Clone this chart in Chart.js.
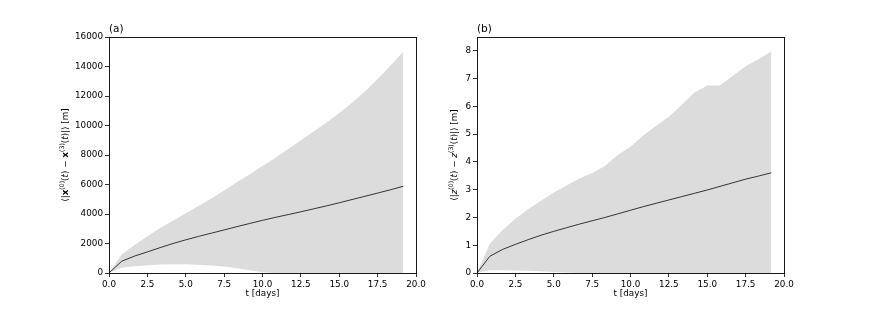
<!DOCTYPE html>
<html>
<head>
<meta charset="utf-8">
<script src="https://cdn.jsdelivr.net/npm/chart.js@4.4.1/dist/chart.umd.min.js"></script>
<style>
  html, body { margin: 0; padding: 0; background: #fff; }
  #wrap { position: relative; width: 872px; height: 312px; }
  .panel { position: absolute; top: 0; width: 436px; height: 312px; }
</style>
</head>
<body>
<div id="wrap">
  <div class="panel" style="left:0"><canvas id="chartA"></canvas></div>
  <div class="panel" style="left:436px"><canvas id="chartB"></canvas></div>
</div>
<script>
// time axis, 20 h output steps
const days = [0, 0.83, 1.67, 2.5, 3.33, 4.17, 5, 5.83, 6.67, 7.5, 8.33, 9.17,
  10, 10.83, 11.67, 12.5, 13.33, 14.17, 15, 15.83, 16.67, 17.5, 18.33, 19.17];

// (a) horizontal separation [m]
const sepMean  = [0, 800, 1150, 1430, 1720, 2000, 2250, 2480, 2700, 2920, 3140, 3360,
  3570, 3770, 3960, 4150, 4350, 4550, 4760, 4980, 5200, 5420, 5640, 5880];
const sepUpper = [0, 1250, 1900, 2500, 3050, 3550, 4050, 4550, 5050, 5600, 6150, 6700,
  7250, 7800, 8400, 9000, 9600, 10200, 10850, 11550, 12300, 13150, 14050, 15000];
const sepLower = [0, 350, 450, 520, 570, 590, 585, 560, 510, 440, 330, 190,
  50, 0, 0, 0, 0, 0, 0, 0, 0, 0, 0, 0];

// (b) vertical separation [m]
const zMean  = [0, 0.6, 0.85, 1.03, 1.2, 1.36, 1.5, 1.63, 1.76, 1.88, 2.0, 2.13,
  2.26, 2.39, 2.51, 2.63, 2.75, 2.87, 2.99, 3.12, 3.25, 3.38, 3.49, 3.61];
const zUpper = [0, 1.05, 1.55, 1.95, 2.3, 2.6, 2.9, 3.15, 3.4, 3.6, 3.85, 4.25,
  4.55, 4.95, 5.3, 5.63, 6.05, 6.5, 6.75, 6.75, 7.1, 7.45, 7.7, 7.98];
const zLower = [0, 0.1, 0.1, 0.09, 0.08, 0.06, 0.04, 0.02, 0, 0, 0, 0,
  0, 0, 0, 0, 0, 0, 0, 0, 0, 0, 0, 0];

const FONT = "'DejaVu Sans', 'Noto Sans', sans-serif";
const pts = (ys) => days.map((d, i) => ({ x: d, y: ys[i] }));

// frame, panel tag, axis titles (y title has super-scripts, so drawn by hand)
function labelPlugin(panelTag, labelX, parts) {
  return {
    id: 'labels' + panelTag,
    afterDraw(chart) {
      const { ctx, chartArea: a } = chart;
      ctx.save();
      ctx.fillStyle = '#000';
      ctx.strokeStyle = '#000';
      ctx.lineWidth = 0.9;
      ctx.strokeRect(Math.round(a.left) + 0.5, Math.round(a.top) + 0.5,
        Math.round(a.right - a.left), Math.round(a.bottom - a.top));
      ctx.font = '10.5px ' + FONT;
      ctx.textBaseline = 'alphabetic';
      ctx.textAlign = 'left';
      ctx.fillText(panelTag, a.left, a.top - 5);
      ctx.font = '8.8px ' + FONT;
      ctx.textAlign = 'center';
      ctx.textBaseline = 'middle';
      ctx.fillText('t [days]', (a.left + a.right) / 2, 294);
      ctx.textAlign = 'left';
      let total = 0;
      parts.forEach(p => { ctx.font = p.f; total += ctx.measureText(p.t).width; });
      ctx.translate(labelX, (a.top + a.bottom) / 2);
      ctx.rotate(-Math.PI / 2);
      let cx = -total / 2;
      parts.forEach(p => {
        ctx.font = p.f;
        ctx.fillText(p.t, cx, p.dy || 0);
        cx += ctx.measureText(p.t).width;
      });
      ctx.restore();
    }
  };
}

const nrm = '8.8px ' + FONT, bld = 'bold 8.8px ' + FONT,
  itl = 'italic 8.8px ' + FONT, sup = '6.2px ' + FONT;

function axisLabel(sym, symFont) {
  return [
    { t: '⟨|', f: nrm }, { t: sym, f: symFont }, { t: '(0)', f: sup, dy: -3.5 },
    { t: '(', f: nrm }, { t: 't', f: itl }, { t: ') − ', f: nrm },
    { t: sym, f: symFont }, { t: '(3)', f: sup, dy: -3.5 },
    { t: '(', f: nrm }, { t: 't', f: itl }, { t: ')|⟩ [m]', f: nrm }
  ];
}

function makeChart(id, mean, upper, lower, yMax, yStep, yAxisW, padRight, tag, labelX, label) {
  return new Chart(document.getElementById(id), {
    type: 'line',
    data: {
      datasets: [
        { data: pts(lower), order: 1, borderColor: 'transparent', borderWidth: 0, pointRadius: 0, fill: false },
        { data: pts(upper), order: 1, borderColor: 'transparent', borderWidth: 0, pointRadius: 0,
          backgroundColor: '#dcdcdc', fill: '-1' },
        { data: pts(mean), order: 0, borderColor: '#333333', borderWidth: 1, pointRadius: 0, fill: false, tension: 0 },
      ],
    },
    options: {
      responsive: false, animation: false,
      layout: { padding: { left: 0, top: 37, right: padRight, bottom: 0 } },
      plugins: { legend: { display: false }, tooltip: { enabled: false } },
      scales: {
        x: {
          type: 'linear', min: 0, max: 20,
          border: { display: false },
          grid: { drawOnChartArea: false, drawTicks: true, tickLength: 4, color: '#000', lineWidth: 0.8 },
          ticks: { stepSize: 2.5, padding: 2, color: '#000', font: { family: FONT, size: 8.8 },
            maxRotation: 0, callback: v => v.toFixed(1) },
          afterFit: s => { s.height = 39; },
        },
        y: {
          min: 0, max: yMax,
          border: { display: false },
          grid: { drawOnChartArea: false, drawTicks: true, tickLength: 4, color: '#000', lineWidth: 0.8 },
          ticks: { stepSize: yStep, includeBounds: false, padding: 2, color: '#000',
            font: { family: FONT, size: 8.8 }, callback: v => String(v) },
          afterFit: s => { s.width = yAxisW; },
        },
      },
    },
    plugins: [labelPlugin(tag, labelX, label)],
  });
}

const cA = document.getElementById('chartA'); cA.width = 436; cA.height = 312;
const cB = document.getElementById('chartB'); cB.width = 436; cB.height = 312;

makeChart('chartA', sepMean, sepUpper, sepLower, 16000, 2000, 109, 20, '(a)', 66, axisLabel('x', bld));
makeChart('chartB', zMean, zUpper, zLower, 8.5, 1, 41, 88, '(b)', 19, axisLabel('z', itl));
</script>
</body>
</html>
